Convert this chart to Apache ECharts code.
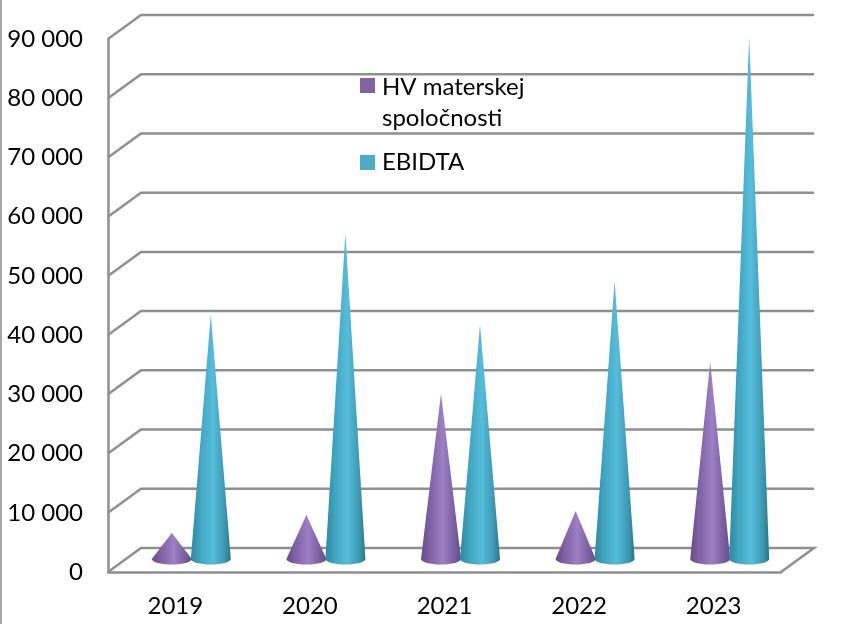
<!DOCTYPE html>
<html>
<head>
<meta charset="utf-8">
<style>html,body{margin:0;padding:0;background:#fff}#c{width:868px;height:624px}</style>
<script src="https://cdn.jsdelivr.net/npm/echarts@6/dist/echarts.min.js"></script>
</head>
<body>
<div id="c"></div>
<script>
const categories = ['2019', '2020', '2021', '2022', '2023'];
const hvValues = [4400, 7450, 27900, 8100, 33300];
const ebidtaValues = [41300, 55000, 39600, 47000, 88150];
const yTicks = [0, 10000, 20000, 30000, 40000, 50000, 60000, 70000, 80000, 90000];
const seriesNames = ['HV materskej spoločnosti', 'EBIDTA'];

const DEPTH_X = 33, DEPTH_Y = 24;
const chart = echarts.init(document.getElementById('c'), null, {renderer: 'canvas'});

function wallItem(params, api) {
  const cs = params.coordSys;
  const p = api.coord([0, api.value(0)]);
  const y = p[1], x0 = cs.x, x1 = cs.x + cs.width;
  const style = {stroke: '#8f8f8f', lineWidth: 2.5, fill: null};
  const pts = [[x0, y], [x0 + DEPTH_X, y - DEPTH_Y], [x1 + DEPTH_X, y - DEPTH_Y]];
  if (api.value(0) === 0) pts.push([x1, y]);
  return {type: 'polyline', shape: {points: pts}, style: style, silent: true};
}

function coneItem(offset, stops) {
  return function (params, api) {
    const base = api.coord([api.value(0), 0]);
    const tip = api.coord([api.value(0), api.value(1)]);
    const cx = base[0] + DEPTH_X / 2 - 0.5 + offset;
    const y0 = base[1] - 13;
    const yt = tip[1] - 13;
    const rx = 20, ry = 5.5;
    const pts = [[cx, yt]];
    for (let i = 0; i <= 32; i++) {
      const a = Math.PI * i / 32;
      pts.push([cx + rx * Math.cos(a), y0 + ry * Math.sin(a)]);
    }
    return {
      type: 'polygon',
      shape: {points: pts},
      style: {
        fill: {type: 'linear', x: 0, y: 0, x2: 1, y2: 0, colorStops: stops},
        stroke: null
      }
    };
  };
}

const purpleStops = [
  {offset: 0, color: '#654c87'}, {offset: 0.25, color: '#8164a8'},
  {offset: 0.55, color: '#9d7fc4'}, {offset: 0.85, color: '#785c9c'}, {offset: 1, color: '#654c87'}
];
const tealStops = [
  {offset: 0, color: '#2f879f'}, {offset: 0.25, color: '#41a6c2'},
  {offset: 0.55, color: '#55bddb'}, {offset: 0.85, color: '#3a97b1'}, {offset: 1, color: '#297686'}
];

chart.setOption({
  animation: false,
  backgroundColor: '#fff',
  textStyle: {fontFamily: 'Lato'},
  grid: {left: 108, right: 87, top: 39, bottom: 52, containLabel: false},
  legend: {
    orient: 'vertical', left: 360, top: 72, padding: 0, itemGap: 2.5, itemWidth: 15, itemHeight: 52,
    selectedMode: false,
    align: 'left',
    formatter: function (n) { return n.replace('materskej ', 'materskej\n'); },
    textStyle: {fontFamily: 'Lato', fontSize: 24, color: '#000', lineHeight: 31, padding: [0, 0, 0, 2]},
    data: [
      {name: seriesNames[0], icon: 'path://M0 0H0.01V0.01H0Z M0 1H15V16H0Z M0 52H0.01V52.01H0Z'},
      {name: seriesNames[1], icon: 'path://M0 0H0.01V0.01H0Z M0 18.5H15V33.5H0Z M0 52H0.01V52.01H0Z'}
    ]
  },
  xAxis: {
    type: 'category', data: categories,
    axisLine: {lineStyle: {color: '#8f8f8f', width: 2.5}},
    axisTick: {show: false},
    axisLabel: {fontFamily: 'Lato', fontSize: 24, color: '#000', margin: 22},
    splitLine: {show: false}
  },
  yAxis: {
    type: 'value', min: 0, max: 90000, interval: 10000,
    axisLine: {show: true, lineStyle: {color: '#8f8f8f', width: 2.5}},
    axisTick: {show: false},
    splitLine: {show: false},
    axisLabel: {
      fontFamily: 'Lato', fontSize: 24, color: '#000', margin: 25,
      formatter: function (v) { return String(v).replace(/\B(?=(\d{3})+$)/g, ' '); }
    }
  },
  graphic: [{
    type: 'line', silent: true, z: 0,
    shape: {x1: 1, y1: 0, x2: 1, y2: 624},
    style: {stroke: '#a6a6a6', lineWidth: 2}
  }],
  series: [
    {type: 'custom', name: 'walls', z: 1, silent: true, renderItem: wallItem,
     encode: {y: 0}, data: yTicks.map(function (v) { return [v]; }), clip: false},
    {type: 'custom', name: seriesNames[0], z: 3, renderItem: coneItem(-19.5, purpleStops),
     itemStyle: {color: '#8064a2'}, encode: {x: 0, y: 1},
     data: hvValues.map(function (v, i) { return [i, v]; }), clip: false},
    {type: 'custom', name: seriesNames[1], z: 4, renderItem: coneItem(19.5, tealStops),
     itemStyle: {color: '#4bacc6'}, encode: {x: 0, y: 1},
     data: ebidtaValues.map(function (v, i) { return [i, v]; }), clip: false}
  ]
});
</script>
</body>
</html>
